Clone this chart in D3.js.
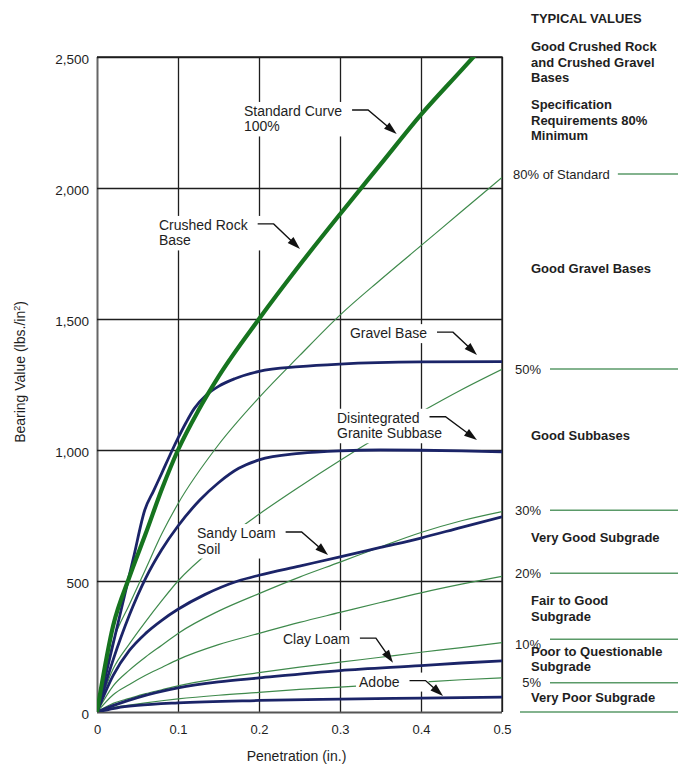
<!DOCTYPE html>
<html>
<head>
<meta charset="utf-8">
<script src="https://cdn.jsdelivr.net/npm/d3@7"></script>
<style>
  html, body { margin: 0; padding: 0; background: #fff; }
  svg { display: block; font-family: "Liberation Sans", Arial, Helvetica, sans-serif; }
</style>
</head>
<body>
<svg id="chart" width="678" height="767"></svg>
<script>
// ---- Data: penetration (in.) vs bearing value (lbs./in²) ----
const xTicks = [0, 0.1, 0.2, 0.3, 0.4, 0.5];
const yTicks = [0, 500, 1000, 1500, 2000, 2500];

// Standard curve (100%)
const standardCurve = [[0,0],[0.02,330],[0.04,515],[0.06,680],[0.08,850],[0.1,1000],[0.125,1150],[0.15,1280],[0.2,1500],[0.25,1705],[0.3,1900],[0.35,2090],[0.4,2280],[0.45,2450],[0.5,2620]];

// Percent-of-standard reference curves
const pct80 = [[0,0],[0.02,270],[0.04,410],[0.06,545],[0.08,680],[0.1,795],[0.15,1020],[0.2,1200],[0.25,1360],[0.3,1515],[0.35,1650],[0.4,1780],[0.45,1910],[0.5,2040]];
const pct50 = [[0,0],[0.02,165],[0.04,260],[0.06,345],[0.08,425],[0.1,500],[0.15,640],[0.2,755],[0.25,860],[0.3,960],[0.35,1055],[0.4,1145],[0.45,1230],[0.5,1308]];
const pct30 = [[0,0],[0.02,100],[0.04,160],[0.06,210],[0.08,255],[0.1,300],[0.15,385],[0.2,452],[0.25,515],[0.3,572],[0.35,630],[0.4,685],[0.45,730],[0.5,765]];
const pct20 = [[0,0],[0.02,66],[0.04,105],[0.06,140],[0.08,170],[0.1,200],[0.15,257],[0.2,300],[0.25,342],[0.3,380],[0.35,418],[0.4,455],[0.45,488],[0.5,518]];
const pct10 = [[0,0],[0.02,33],[0.04,52],[0.06,70],[0.08,85],[0.1,100],[0.15,128],[0.2,150],[0.25,171],[0.3,190],[0.35,209],[0.4,228],[0.45,246],[0.5,265]];
const pct5  = [[0,0],[0.02,17],[0.04,26],[0.06,35],[0.08,43],[0.1,50],[0.15,64],[0.2,75],[0.25,86],[0.3,95],[0.35,105],[0.4,114],[0.45,123],[0.5,130]];

// Material test curves
const gravelBase = [[0,0],[0.015,196],[0.03,392],[0.045,588],[0.059,771],[0.07,845],[0.08,912],[0.093,1000],[0.1,1045],[0.11,1105],[0.12,1158],[0.135,1210],[0.15,1243],[0.17,1272],[0.2,1300],[0.25,1318],[0.3,1328],[0.4,1336],[0.5,1337]];
const graniteSubbase = [[0,0],[0.02,200],[0.04,370],[0.06,510],[0.08,620],[0.1,710],[0.127,809],[0.15,875],[0.175,930],[0.2,962],[0.25,987],[0.3,997],[0.35,1000],[0.4,999],[0.45,997],[0.5,993]];
const sandyLoam = [[0,0],[0.02,140],[0.04,235],[0.06,300],[0.08,350],[0.1,392],[0.133,448],[0.174,500],[0.2,522],[0.25,557],[0.3,592],[0.35,628],[0.4,664],[0.45,705],[0.5,745]];
const clayLoam = [[0,0],[0.025,30],[0.05,55],[0.1,92],[0.15,115],[0.2,130],[0.3,158],[0.4,177],[0.45,187],[0.5,195]];
const adobe = [[0,0],[0.025,16],[0.05,25],[0.1,35],[0.2,44],[0.3,49],[0.4,53],[0.5,57]];

// Levels marked at the right edge (lbs./in²)
const levelLabels = ["80% of Standard", "50%", "30%", "20%", "10%", "5%", ""];
const levelValues = [2053, 1309, 770, 530, 278, 112, 0];

// Typical-value notes
const typicalNotes = [
  ["TYPICAL VALUES"],
  ["Good Crushed Rock", "and Crushed Gravel", "Bases"],
  ["Specification", "Requirements 80%", "Minimum"],
  ["Good Gravel Bases"],
  ["Good Subbases"],
  ["Very Good Subgrade"],
  ["Fair to Good", "Subgrade"],
  ["Poor to Questionable", "Subgrade"],
  ["Very Poor Subgrade"]
];

// Curve callouts: text lines, text anchor and arrow tip in data units
const callouts = [
  { lines: ["Standard Curve", "100%"], at: [0.1815, 2275], tip: [0.370, 2206] },
  { lines: ["Crushed Rock", "Base"], at: [0.0765, 1840], tip: [0.2506, 1767] },
  { lines: ["Gravel Base"], at: [0.3123, 1427], tip: [0.4691, 1363] },
  { lines: ["Disintegrated", "Granite Subbase"], at: [0.2963, 1104], tip: [0.4691, 1038] },
  { lines: ["Sandy Loam", "Soil"], at: [0.1235, 664], tip: [0.2852, 599] },
  { lines: ["Clay Loam"], at: [0.2296, 259], tip: [0.3654, 188] },
  { lines: ["Adobe"], at: [0.3235, 97], tip: [0.4272, 61] }
];

// ---- Layout ----
const W = 678, H = 767;
const margin = { top: 57, right: 176, bottom: 55, left: 97 };
const plotW = W - margin.left - margin.right;
const plotH = H - margin.top - margin.bottom;

const svg = d3.select("#chart");
const x = d3.scaleLinear().domain([0, 0.5]).range([margin.left, margin.left + plotW]);
const y = d3.scaleLinear().domain([0, 2500]).range([margin.top + plotH, margin.top]);

const ink = "#1e1e1e";
const navy = "#1b2468";
const thinGreen = "#3f8a4c";
const thickGreen = "#16741f";

// Grid via axes
const xAxis = d3.axisBottom(x).tickValues(xTicks).tickSizeInner(-plotH).tickSizeOuter(0)
  .tickPadding(13).tickFormat(d => d === 0 ? "0" : d3.format(".1f")(d));
const gx = svg.append("g").attr("transform", `translate(0,${margin.top + plotH})`).call(xAxis);
gx.select(".domain").remove();
gx.selectAll(".tick line").attr("stroke", (d, i) => i === 0 ? "#666" : ink).attr("stroke-width", (d, i) => i === 0 ? 2 : 1.3);
gx.selectAll(".tick text").attr("font-size", 13).attr("fill", ink).attr("font-family", null);

const yAxis = d3.axisLeft(y).tickValues(yTicks).tickSizeInner(-plotW).tickSizeOuter(0)
  .tickPadding(8).tickFormat(d3.format(","));
const gy = svg.append("g").attr("transform", `translate(${margin.left},0)`).call(yAxis);
gy.select(".domain").remove();
gy.selectAll(".tick line").attr("stroke", (d, i) => i === 0 ? "#555" : ink).attr("stroke-width", (d, i) => i === 0 ? 2 : 1.3);
gy.selectAll(".tick text").attr("font-size", 13.5).attr("fill", ink).attr("font-family", null).attr("dy", "0.5em");

// Frame top/right
svg.append("path")
  .attr("d", `M${x(0)},${y(2500)}H${x(0.5)}V${y(0)}`)
  .attr("fill", "none").attr("stroke", ink).attr("stroke-width", 1.3);

// Axis titles
svg.append("text")
  .attr("x", x(0.25) - 3).attr("y", 761)
  .attr("text-anchor", "middle").attr("font-size", 14).attr("fill", ink)
  .text("Penetration (in.)");
const yt = svg.append("text")
  .attr("transform", "translate(25,372) rotate(-90)")
  .attr("text-anchor", "middle").attr("font-size", 14).attr("fill", ink);
yt.append("tspan").text("Bearing Value (lbs./in");
yt.append("tspan").attr("font-size", 9).attr("dy", -5).text("2");
yt.append("tspan").attr("dy", 5).text(")");

// Curves
svg.append("clipPath").attr("id", "plotClip").append("rect")
  .attr("x", margin.left).attr("y", margin.top).attr("width", plotW).attr("height", plotH);
const line = d3.line().x(d => x(d[0])).y(d => y(d[1])).curve(d3.curveMonotoneX);
const curves = svg.append("g").attr("clip-path", "url(#plotClip)").attr("fill", "none")
  .attr("stroke-linejoin", "round").attr("stroke-linecap", "round");

[pct80, pct50, pct30, pct20, pct10, pct5].forEach(s => {
  curves.append("path").attr("d", line(s)).attr("stroke", thinGreen).attr("stroke-width", 1.2);
});
[adobe, clayLoam, sandyLoam, graniteSubbase, gravelBase].forEach(s => {
  curves.append("path").attr("d", line(s)).attr("stroke", navy).attr("stroke-width", 2.8);
});
curves.append("path").attr("d", line(standardCurve)).attr("stroke", thickGreen).attr("stroke-width", 4.2);

// Callouts with white backing
callouts.forEach(c => {
  const g = svg.append("g");
  const tx = x(c.at[0]), ty = y(c.at[1]);
  const box = g.append("rect").attr("fill", "#fff");
  const t = g.append("text").attr("font-size", 14).attr("fill", ink);
  c.lines.forEach((l, i) => t.append("tspan").attr("x", tx).attr("y", ty + i * 15.5).text(l));
  const firstW = t.select("tspan").node().getComputedTextLength();
  const maxW = d3.max(t.selectAll("tspan").nodes(), n => n.getComputedTextLength());
  const sx = tx + firstW + 10, ex = sx + 16, ay = ty - 6;
  const px = x(c.tip[0]), py = y(c.tip[1]);
  const right = Math.max(tx + maxW, ex) + 3;
  box.attr("x", tx - 3).attr("y", ty - 14)
    .attr("width", right - tx + 3).attr("height", (c.lines.length - 1) * 15.5 + 19);
  const dx = px - ex, dy = py - ay, len = Math.hypot(dx, dy);
  const ux = dx / len, uy = dy / len, headL = 13, headW = 4.2;
  const bx = px - ux * headL, by = py - uy * headL;
  g.append("path").attr("d", `M${sx},${ay}H${ex}L${bx + ux * 2},${by + uy * 2}`)
    .attr("fill", "none").attr("stroke", "#111").attr("stroke-width", 1.4);
  g.append("path")
    .attr("d", `M${px},${py}L${bx - uy * headW},${by + ux * headW}L${bx + uy * headW},${by - ux * headW}Z`)
    .attr("fill", "#111");
});

// Right-hand level marks
const levelNudge = { "10%": 5.5 };
levelLabels.forEach((lab, i) => {
  const ly = y(levelValues[i]);
  let startX = 520;
  if (lab) {
    const t = svg.append("text").attr("font-size", 13).attr("fill", ink)
      .attr("y", ly + 4.5 + (levelNudge[lab] || 0)).text(lab);
    const w = t.node().getComputedTextLength();
    const tx = w > 40 ? 513 : 541 - w;
    t.attr("x", tx);
    startX = Math.max(550, tx + w + 8);
  }
  svg.append("line").attr("x1", startX).attr("x2", W).attr("y1", ly).attr("y2", ly)
    .attr("stroke", "#5a9a68").attr("stroke-width", 1.5);
});

// Typical-value notes
const noteBaselines = [22.5, 51, 109, 273, 440, 541.5, 605, 655.5, 702];
typicalNotes.forEach((lines, i) => {
  const t = svg.append("text").attr("font-size", 13).attr("font-weight", "bold").attr("fill", ink);
  lines.forEach((l, j) => t.append("tspan").attr("x", 531).attr("y", noteBaselines[i] + j * 15.6).text(l));
});
</script>
</body>
</html>
